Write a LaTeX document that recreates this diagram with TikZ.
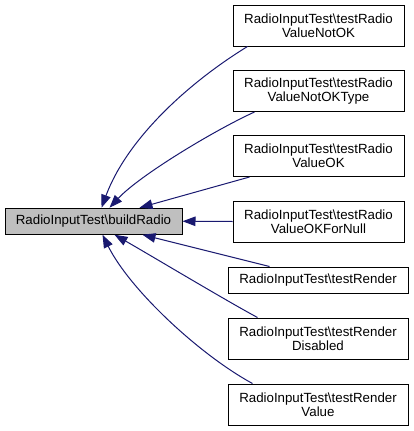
\documentclass[tikz,border=0pt]{standalone}
\usepackage{fontspec}
\setmainfont{Liberation Sans}
\usetikzlibrary{arrows.meta}
\definecolor{edgeblue}{HTML}{191970}
\definecolor{maingrey}{HTML}{BFBFBF}
\tikzset{
  fnbox/.style={draw=black, line width=1pt, fill=white, inner sep=0pt, align=center,
    font=\fontsize{13.3pt}{14pt}\selectfont},
  twoline/.style={fnbox, minimum width=171pt, minimum height=41pt},
  oneline/.style={fnbox, minimum width=180pt, minimum height=26pt},
  call/.style={draw=edgeblue, line width=1pt, {Triangle[length=13pt,width=9.5pt]}-}
}
\begin{document}
\begin{tikzpicture}[x=1pt,y=-1pt]
\useasboundingbox (0,0) rectangle (413,431);
\node[fnbox, fill=maingrey, minimum width=177pt, minimum height=26pt] (m) at (93.5,221.25) {RadioInputTest\textbackslash buildRadio};
\node[twoline] (b1) at (318.5,25.5) {RadioInputTest\textbackslash testRadio\\ValueNotOK};
\node[twoline] (b2) at (318.5,91) {RadioInputTest\textbackslash testRadio\\ValueNotOKType};
\node[twoline] (b3) at (318.5,156) {RadioInputTest\textbackslash testRadio\\ValueOK};
\node[twoline] (b4) at (318.5,221.5) {RadioInputTest\textbackslash testRadio\\ValueOKForNull};
\node[oneline] (b5) at (318,280) {RadioInputTest\textbackslash testRender};
\node[twoline, minimum width=180pt] (b6) at (318,338.5) {RadioInputTest\textbackslash testRender\\Disabled};
\node[twoline, minimum width=180pt] (b7) at (318,404.5) {RadioInputTest\textbackslash testRender\\Value};

\draw[call] ([xshift=97pt]m.north west) .. controls (127,139) and (188,83) .. ([xshift=15pt]b1.south west);
\draw[call] ([xshift=105pt]m.north west) .. controls (140,175) and (215,130) .. ([xshift=22pt]b2.south west);
\draw[call] ([xshift=135pt]m.north west) -- ([xshift=17pt]b3.south west);
\draw[call] (m.east) -- (b4.west);
\draw[call] ([xshift=138pt]m.south west) -- ([xshift=42pt]b5.north west);
\draw[call] ([xshift=110pt]m.south west) .. controls (150,255) and (225,300) .. ([xshift=30pt]b6.north west);
\draw[call] ([xshift=98pt]m.south west) .. controls (130,290) and (200,355) .. ([xshift=25pt]b7.north west);
\end{tikzpicture}
\end{document}
